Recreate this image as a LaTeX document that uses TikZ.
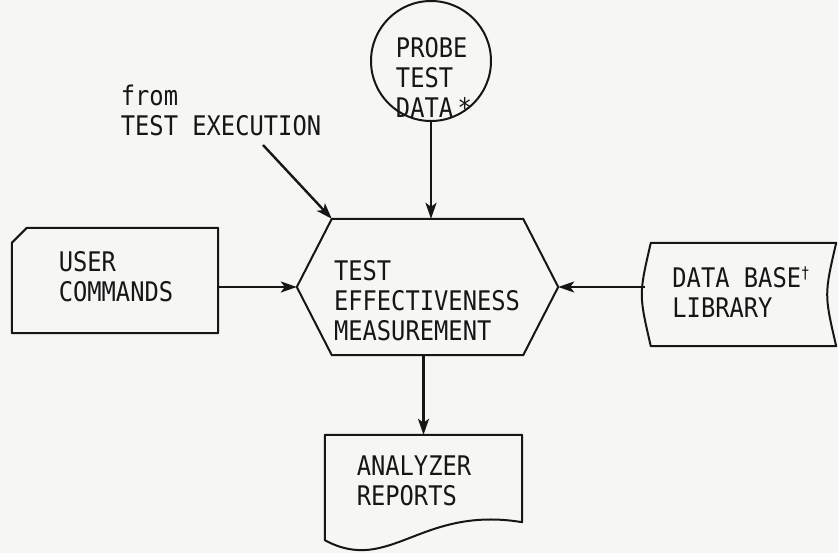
\documentclass[tikz,border=0pt]{standalone}
\usepackage{fontspec}
\newfontfamily\lett[FakeStretch=0.88]{DejaVu Sans Mono}
\usetikzlibrary{arrows.meta,calc}
\definecolor{paper}{RGB}{246,246,244}
\definecolor{ink}{RGB}{22,22,22}
\begin{document}
\begin{tikzpicture}[x=1pt,y=-1pt,
  txt/.style={font=\lett\fontsize{27}{30}\selectfont, text=ink, align=left, inner sep=0pt},
  outline/.style={draw=ink, line width=2pt, line join=round},
  flow/.style={draw=ink, line width=2.4pt, -{Stealth[length=16pt,width=11pt,inset=4pt]}},
  ghost/.style={draw=none, inner sep=0pt}]
\fill[paper] (0,0) rectangle (838,553);
\useasboundingbox (0,0) rectangle (838,553);

% shapes (as invisible frames, outlines drawn from their anchors)
\node[circle, outline, minimum size=120pt, inner sep=0pt] (probe) at (431,61) {};
\node[ghost, minimum width=261pt, minimum height=136pt] (tem) at (427.5,287) {};
\node[ghost, minimum width=206pt, minimum height=105pt] (usr) at (115,280.5) {};
\node[ghost, minimum width=191pt, minimum height=103pt] (db) at (740.5,294.5) {};
\node[ghost, minimum width=197pt, minimum height=87pt] (rep) at (423.5,478.5) {};

% hexagon
\draw[outline] (tem.west) -- ($(tem.north west)+(35,0)$) -- ($(tem.north east)+(-35,0)$)
  -- (tem.east) -- ($(tem.south east)+(-35,0)$) -- ($(tem.south west)+(35,0)$) -- cycle;
% card
\draw[outline] ($(usr.north west)+(15,0)$) -- (usr.north east) -- (usr.south east)
  -- (usr.south west) -- ($(usr.north west)+(0,15)$) -- cycle;
% stored data
\draw[outline] ($(db.north west)+(6,0)$) -- (db.north east)
  .. controls ($(db.east)+(-12,0)$) .. (db.south east)
  -- ($(db.south west)+(6,0)$)
  .. controls ($(db.west)+(-6,0)$) .. cycle;
% document
\draw[outline] (rep.north west) -- (rep.north east) -- (rep.south east)
  .. controls ($(rep.south east)+(-102,-17)$) and ($(rep.south west)+(65,53)$) .. ($(rep.south west)+(0,18)$)
  -- cycle;

% texts
\node[txt] (probetxt) at (434,77) {PROBE\\TEST\\DATA\,*};
\node[txt] (srctxt) at (221,110) {from\\TEST EXECUTION};
\node[txt] (usrtxt) at (116,277) {USER\\COMMANDS};
\node[txt] (temtxt) at (427,301) {TEST\\EFFECTIVENESS\\MEASUREMENT};
\node[txt] (dbtxt) at (741,292) {DATA BASE\raisebox{9pt}{\fontsize{16}{16}\selectfont †}\\LIBRARY};
\node[txt] (reptxt) at (414,481) {ANALYZER\\REPORTS};

% connectors
\coordinate (srcend) at (263,145);
\draw[flow] (srcend) -- ($(tem.north west)+(35,0)$);
\draw[flow] (probe.south) -- (probe.south |- tem.north);
\draw[flow] (usr.east |- tem.west) -- (tem.west);
\draw[flow] (db.west |- tem.east) -- (tem.east);
\draw[flow] (tem.south -| rep.north) -- (rep.north);
\end{tikzpicture}
\end{document}
